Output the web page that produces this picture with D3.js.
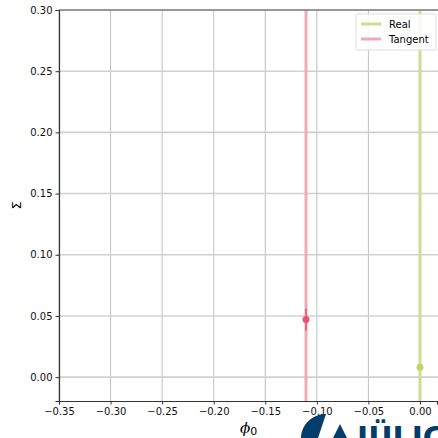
<html>
<head>
  <script src="https://d3js.org/d3.v7.min.js"></script>
  <style>
    body { margin: 0; background: #fff; }
    svg { font-family: "DejaVu Sans", sans-serif; }
  </style>
</head>
<body>
  <svg id="chart"></svg>
  <script>
  // values
  const seriesNames = ["Real", "Tangent"]
  const seriesX = [0.0, -0.1105]
  const seriesY = [0.008, 0.047]
  const seriesErr = [0.0, 0.009]
  const lineColors = ["#cadf92", "#f2a9b6"]
  const pointColors = ["#bcd66a", "#e8546e"]
  const xTicks = [-0.35, -0.30, -0.25, -0.20, -0.15, -0.10, -0.05, 0.00]
  const yTicks = [0.00, 0.05, 0.10, 0.15, 0.20, 0.25, 0.30]

  const W = 438, H = 438
  const margin = {left: 59, right: 1, top: 10, bottom: 37}

  const svg = d3.select("#chart").attr("width", W).attr("height", H)

  const x = d3.scaleLinear().domain([-0.35, 0.0165]).range([margin.left, W - margin.right])
  const y = d3.scaleLinear().domain([-0.0195, 0.30]).range([H - margin.bottom, margin.top])

  // grid
  svg.append("g").selectAll("line").data(xTicks).join("line")
    .attr("x1", d => x(d)).attr("x2", d => x(d))
    .attr("y1", y(0.30)).attr("y2", y(-0.0195))
    .attr("stroke", "#b0b0b0").attr("stroke-width", 0.8)
  svg.append("g").selectAll("line").data(yTicks).join("line")
    .attr("x1", x(-0.35)).attr("x2", W)
    .attr("y1", d => y(d)).attr("y2", d => y(d))
    .attr("stroke", "#d0d0d0").attr("stroke-width", 1.6)

  // vertical lines for each series
  svg.append("g").selectAll("line").data(seriesX).join("line")
    .attr("x1", d => x(d)).attr("x2", d => x(d))
    .attr("y1", y(0.30)).attr("y2", y(-0.0195))
    .attr("stroke", (d, i) => lineColors[i]).attr("stroke-width", 3)

  // error bars
  svg.append("g").selectAll("line").data(seriesX).join("line")
    .attr("x1", d => x(d)).attr("x2", d => x(d))
    .attr("y1", (d, i) => y(seriesY[i] + seriesErr[i]))
    .attr("y2", (d, i) => y(seriesY[i] - seriesErr[i]))
    .attr("stroke", (d, i) => pointColors[i]).attr("stroke-width", 1.5)

  // points
  svg.append("g").selectAll("circle").data(seriesX).join("circle")
    .attr("cx", d => x(d)).attr("cy", (d, i) => y(seriesY[i]))
    .attr("r", 3.5)
    .attr("fill", (d, i) => pointColors[i])

  // axes
  const xAxis = d3.axisBottom(x).tickValues(xTicks).tickSize(3.5).tickPadding(3)
    .tickFormat(d => d3.format(".2f")(d).replace("-", "\u2212"))
  const yAxis = d3.axisLeft(y).tickValues(yTicks).tickSize(3.5).tickPadding(3)
    .tickFormat(d3.format(".2f"))

  const gx = svg.append("g").attr("transform", "translate(0," + y(-0.0195) + ")").call(xAxis)
  const gy = svg.append("g").attr("transform", "translate(" + x(-0.35) + ",0)").call(yAxis)
  for (const g of [gx, gy]) {
    g.select(".domain").attr("stroke", "#333").attr("stroke-width", 1.2)
    g.selectAll(".tick line").attr("stroke", "#333")
    g.selectAll(".tick text").attr("font-size", 10).attr("fill", "#111")
      .attr("font-family", "DejaVu Sans")
  }
  // top spine
  svg.append("line").attr("x1", x(-0.35)).attr("x2", W)
    .attr("y1", y(0.30)).attr("y2", y(0.30))
    .attr("stroke", "#555").attr("stroke-width", 1.2)

  // axis labels
  svg.append("text").attr("x", 16).attr("y", (margin.top + H - margin.bottom) / 2)
    .attr("text-anchor", "middle").attr("font-size", 13)
    .attr("transform", "rotate(-90,16," + ((margin.top + H - margin.bottom) / 2) + ")")
    .attr("dy", "0.35em").text("Σ")
  const xl = svg.append("text").attr("x", 240).attr("y", 433)
    .attr("font-size", 15).attr("font-style", "italic").attr("font-family", "DejaVu Serif")
  xl.append("tspan").text("ϕ")
  xl.append("tspan").attr("font-size", 11).attr("font-style", "normal")
    .attr("font-family", "DejaVu Sans").attr("dy", 2).text("0")

  // legend
  const lg = svg.append("g").attr("transform", "translate(356,14)")
  lg.append("rect").attr("width", 80).attr("height", 36).attr("rx", 2)
    .attr("fill", "#fff").attr("fill-opacity", 0.85).attr("stroke", "#ddd")
  seriesNames.forEach((n, i) => {
    lg.append("line").attr("x1", 5).attr("x2", 25).attr("y1", 10 + i * 15).attr("y2", 10 + i * 15)
      .attr("stroke", lineColors[i]).attr("stroke-width", 3)
    lg.append("text").attr("x", 33).attr("y", 10 + i * 15).attr("dy", "0.35em")
      .attr("font-size", 10).text(n)
  })

  // logo (cropped at bottom edge, as in the original)
  const logo = svg.append("g").attr("fill", "#023d6b")
  logo.append("path").attr("d", "M301,438 C301,425 312,414 326,414 L318,438 Z")
  logo.append("path").attr("d", "M340,424 L333,438 L347,438 Z")
  logo.append("text").attr("x", 357).attr("y", 448).attr("font-size", 30)
    .attr("font-weight", "bold").attr("font-family", "DejaVu Sans").text("JÜLIC")
  </script>
</body>
</html>
